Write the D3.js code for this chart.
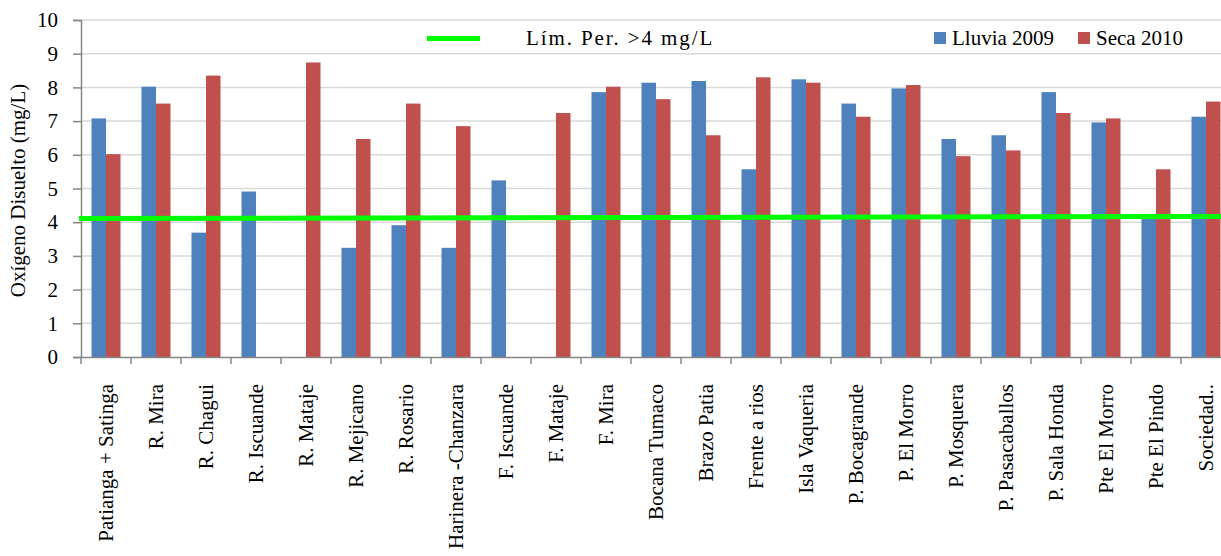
<!DOCTYPE html>
<html>
<head>
<meta charset="utf-8">
<script src="https://cdn.jsdelivr.net/npm/d3@7"></script>
<style>
body{margin:0;background:#fff;}
svg text{font-family:"Liberation Serif","Times New Roman",serif !important;fill:#000;}
</style>
</head>
<body>
<div id="chart"></div>
<script>
// data
const categories = ["Patianga + Satinga","R. Mira","R. Chagui","R. Iscuande","R. Mataje","R. Mejicano","R. Rosario",
  "Harinera -Chanzara","F. Iscuande","F. Mataje","F. Mira","Bocana Tumaco","Brazo Patia","Frente a rios",
  "Isla Vaqueria","P. Bocagrande","P. El Morro","P. Mosquera","P. Pasacaballos","P. Sala Honda",
  "Pte El Morro","Pte El Pindo","Sociedad.."];
const lluvia2009 = [7.08,8.02,3.69,4.91,null,3.24,3.91,3.24,5.24,null,7.86,8.14,8.19,5.57,8.24,7.52,7.97,6.47,6.58,7.86,6.96,4.1,7.13];
const seca2010 = [6.02,7.52,8.35,null,8.74,6.47,7.52,6.85,null,7.24,8.02,7.65,6.58,8.3,8.14,7.13,8.07,5.96,6.13,7.24,7.08,5.57,7.58];
const seriesNames = ["Lluvia 2009","Seca 2010"];
const limitLine = [4.11, 4.17]; // start / end of the green reference line
const limitLabel = "Lím. Per. >4 mg/L";
const yTicks = [0,1,2,3,4,5,6,7,8,9,10];

const w = 1221, h = 556;
const colors = ["#4f81bd","#c0504d"];
const margin = {left:81, top:20, bottom:199};
const plotRight = 1231; // plot runs past the right edge of the image

const svg = d3.select("#chart").append("svg")
  .attr("width", w).attr("height", h)
  .attr("viewBox", [0,0,w,h]);

let y = d3.scaleLinear().domain([0,10]).range([h - margin.bottom, margin.top]);
let x = d3.scaleBand().domain(categories).range([margin.left, plotRight])
  .paddingInner(0.42).paddingOuter(0.21);
let xs = d3.scaleBand().domain([0,1]).range([0, x.bandwidth()]);

// grid lines
svg.append("g").selectAll("line").data(yTicks.filter(d => d > 0)).enter()
  .append("line")
  .attr("x1", margin.left).attr("x2", w)
  .attr("y1", d => y(d)).attr("y2", d => y(d))
  .attr("stroke", "#d9d9d9").attr("stroke-width", 1.5);

// bars
const series = [lluvia2009, seca2010];
series.forEach((vals, si) => {
  svg.append("g").selectAll("rect")
    .data(categories.map((c,i) => ({c, v: vals[i]})).filter(d => d.v != null))
    .enter().append("rect")
    .attr("x", d => x(d.c) + xs(si))
    .attr("width", xs.bandwidth())
    .attr("y", d => y(d.v))
    .attr("height", d => y(0) - y(d.v))
    .attr("fill", colors[si]);
});

// y axis
const yAxis = svg.append("g").attr("transform", `translate(${margin.left},0)`)
  .call(d3.axisLeft(y).tickValues(yTicks).tickSize(8).tickPadding(15));
yAxis.attr("font-family", null);
yAxis.selectAll("text").style("font-size","21px");
yAxis.selectAll("line,path").attr("stroke","#868686").attr("stroke-width",1.5);

// x axis
const xAxis = svg.append("g").attr("transform", `translate(0,${y(0)})`)
  .call(d3.axisBottom(x).tickSize(0).tickFormat(""));
xAxis.select("path").attr("stroke","#868686").attr("stroke-width",1.5);
svg.append("g").selectAll("line").data(d3.range(categories.length + 1)).enter()
  .append("line")
  .attr("x1", i => margin.left + i * x.step()).attr("x2", i => margin.left + i * x.step())
  .attr("y1", y(0)).attr("y2", y(0) + 7)
  .attr("stroke","#868686").attr("stroke-width",1.5);

svg.append("g").selectAll("text").data(categories).enter()
  .append("text")
  .attr("transform", d => `translate(${x(d) + x.bandwidth()/2},384) rotate(-90)`)
  .attr("text-anchor","end").attr("dy","0.33em")
  .style("font-size","21px")
  .text(d => d);

// limit line
svg.append("line")
  .attr("x1", 79).attr("x2", w)
  .attr("y1", y(limitLine[0])).attr("y2", y(limitLine[1]))
  .attr("stroke","#00ff00").attr("stroke-width",5);

// y title
svg.append("text")
  .attr("transform", `translate(25,${(y(0)+y(10))/2 + 2}) rotate(-90)`)
  .attr("text-anchor","middle")
  .style("font-size","21px")
  .text("Oxígeno Disuelto (mg/L)");

// legend
svg.append("line").attr("x1",427).attr("x2",480).attr("y1",38.5).attr("y2",38.5)
  .attr("stroke","#00ff00").attr("stroke-width",5);
svg.append("text").attr("x",526).attr("y",45).style("font-size","21px")
  .style("letter-spacing","1.9px").text(limitLabel);

const legX = [934, 1078];
seriesNames.forEach((n, i) => {
  svg.append("rect").attr("x", legX[i]).attr("y", 32).attr("width", 12).attr("height", 12).attr("fill", colors[i]);
  svg.append("text").attr("x", legX[i] + 18).attr("y", 45).style("font-size","21px").text(n);
});
</script>
</body>
</html>
